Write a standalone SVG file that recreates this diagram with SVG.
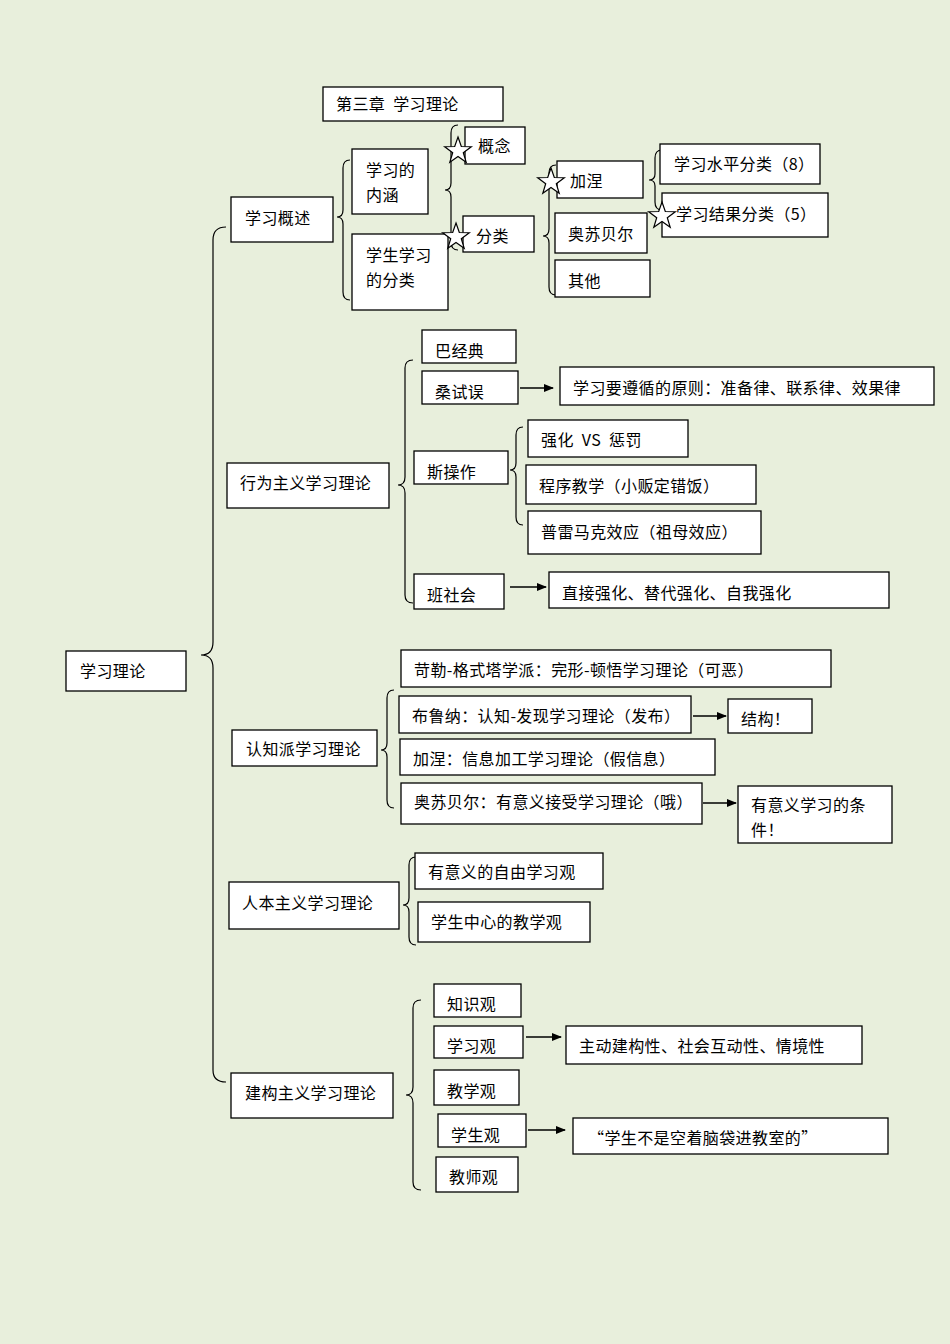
<svg xmlns="http://www.w3.org/2000/svg" xmlns:xlink="http://www.w3.org/1999/xlink" width="950" height="1344" viewBox="0 0 950 1344">
<style>
.b{fill:#fff;stroke:#000;stroke-width:1.3}
.t{font-family:"Noto Sans CJK SC","Liberation Sans",sans-serif;font-size:16px;fill:#000;white-space:pre;letter-spacing:0.4px}
.br{fill:none;stroke:#000;stroke-width:1.2}
.ar{stroke:#000;stroke-width:1.5;marker-end:url(#ah)}
</style>
<defs>
<marker id="ah" markerWidth="10" markerHeight="8" refX="9" refY="4" orient="auto" markerUnits="userSpaceOnUse"><path d="M0,0 L10,4 L0,8 z" fill="#000"/></marker>
<polygon id="star" points="0,-14 3.3,-4.5 13.3,-4.3 5.3,1.7 8.2,11.3 0,5.6 -8.2,11.3 -5.3,1.7 -13.3,-4.3 -3.3,-4.5" fill="#fff" stroke="#000" stroke-width="1.2"/>
</defs>
<rect width="950" height="1344" fill="#e8efdc"/>
<g id="connectors">
<path class="br" d="M226 227 Q213 227 213 240 L213 642 Q213 655 201 655 Q213 655 213 668 L213 1070 Q213 1082 226 1082"/>
<path class="br" d="M350 160 Q343 160 343 168 L343 210 Q343 217 337 217 Q343 217 343 224 L343 292 Q343 300 350 300"/>
<path class="br" d="M458 125 Q451 125 451 133 L451 183 Q451 190 445 190 Q451 190 451 197 L451 242 Q451 250 458 250"/>
<path class="br" d="M556 165 Q549 165 549 173 L549 229 Q549 236 543 236 Q549 236 549 243 L549 287 Q549 295 556 295"/>
<path class="br" d="M662 150 Q655 150 655 158 L655 174 Q655 180 649 180 Q655 180 655 186 L655 202 Q655 210 662 210"/>
<path class="br" d="M413 360 Q405 360 405 368 L405 477 Q405 485 398 485 Q405 485 405 493 L405 595 Q405 603 413 603"/>
<path class="br" d="M523 427 Q516 427 516 435 L516 463 Q516 470 510 470 Q516 470 516 477 L516 517 Q516 525 523 525"/>
<path class="br" d="M394 690 Q387 690 387 698 L387 743 Q387 750 381 750 Q387 750 387 757 L387 800 Q387 808 394 808"/>
<path class="br" d="M416 857 Q409 857 409 865 L409 898 Q409 905 403 905 Q409 905 409 912 L409 937 Q409 945 416 945"/>
<path class="br" d="M421 1000 Q413 1000 413 1008 L413 1087 Q413 1095 406 1095 Q413 1095 413 1103 L413 1182 Q413 1190 421 1190"/>
<line class="ar" x1="520" y1="388" x2="553" y2="388"/>
<line class="ar" x1="510" y1="587" x2="546" y2="587"/>
<line class="ar" x1="693" y1="716" x2="726" y2="716"/>
<line class="ar" x1="703" y1="803" x2="736" y2="803"/>
<line class="ar" x1="526" y1="1037" x2="561" y2="1037"/>
<line class="ar" x1="528" y1="1130" x2="565" y2="1130"/>
</g>
<g id="title"><rect class="b" x="323" y="87" width="180" height="34"/><text class="t" x="336" y="110">第三章  学习理论</text></g>
<g id="root"><rect class="b" x="66" y="651" width="120" height="40"/><text class="t" x="80" y="677">学习理论</text></g>
<g id="n1"><rect class="b" x="231" y="197" width="102" height="45"/><text class="t" x="245" y="224">学习概述</text></g>
<g id="n1a"><rect class="b" x="352" y="149" width="76" height="65"/><text class="t" x="366" y="176">学习的</text><text class="t" x="366" y="201">内涵</text></g>
<g id="n1b"><rect class="b" x="352" y="234" width="96" height="76"/><text class="t" x="366" y="261">学生学习</text><text class="t" x="366" y="286">的分类</text></g>
<g id="n1c"><rect class="b" x="465" y="127" width="60" height="37"/><text class="t" x="478" y="152">概念</text></g>
<g id="n1d"><rect class="b" x="463" y="216" width="71" height="36"/><text class="t" x="476" y="242">分类</text></g>
<g id="n1e"><rect class="b" x="557" y="161" width="86" height="37"/><text class="t" x="570" y="187">加涅</text></g>
<g id="n1f"><rect class="b" x="555" y="213" width="92" height="40"/><text class="t" x="568" y="240">奥苏贝尔</text></g>
<g id="n1g"><rect class="b" x="555" y="260" width="95" height="37"/><text class="t" x="568" y="287">其他</text></g>
<g id="n1h"><rect class="b" x="660" y="144" width="160" height="40"/><text class="t" x="674" y="170">学习水平分类（8）</text></g>
<g id="n1i"><rect class="b" x="662" y="193" width="166" height="44"/><text class="t" x="676" y="220">学习结果分类（5）</text></g>
<g id="stars">
<use xlink:href="#star" x="458" y="151"/>
<use xlink:href="#star" x="456" y="237"/>
<use xlink:href="#star" x="551" y="182"/>
<use xlink:href="#star" x="662" y="216"/>
</g>
<g id="n2"><rect class="b" x="227" y="463" width="162" height="45"/><text class="t" x="240" y="489">行为主义学习理论</text></g>
<g id="n2a"><rect class="b" x="422" y="330" width="94" height="33"/><text class="t" x="435" y="357">巴经典</text></g>
<g id="n2b"><rect class="b" x="422" y="371" width="96" height="33"/><text class="t" x="435" y="398">桑试误</text></g>
<g id="n2c"><rect class="b" x="560" y="367" width="374" height="38"/><text class="t" x="573" y="394">学习要遵循的原则：准备律、联系律、效果律</text></g>
<g id="n2d"><rect class="b" x="414" y="451" width="94" height="33"/><text class="t" x="427" y="478">斯操作</text></g>
<g id="n2e"><rect class="b" x="528" y="420" width="160" height="37"/><text class="t" x="541" y="446">强化  VS  惩罚</text></g>
<g id="n2f"><rect class="b" x="526" y="465" width="230" height="39"/><text class="t" x="539" y="492">程序教学（小贩定错饭）</text></g>
<g id="n2g"><rect class="b" x="528" y="511" width="233" height="43"/><text class="t" x="541" y="538">普雷马克效应（祖母效应）</text></g>
<g id="n2h"><rect class="b" x="414" y="574" width="90" height="35"/><text class="t" x="427" y="601">班社会</text></g>
<g id="n2i"><rect class="b" x="549" y="572" width="340" height="36"/><text class="t" x="562" y="599">直接强化、替代强化、自我强化</text></g>
<g id="n3"><rect class="b" x="232" y="730" width="145" height="36"/><text class="t" x="246" y="755">认知派学习理论</text></g>
<g id="n3a"><rect class="b" x="401" y="650" width="430" height="37"/><text class="t" x="414" y="676">苛勒-格式塔学派：完形-顿悟学习理论（可恶）</text></g>
<g id="n3b"><rect class="b" x="399" y="696" width="292" height="37"/><text class="t" x="412" y="722">布鲁纳：认知-发现学习理论（发布）</text></g>
<g id="n3c"><rect class="b" x="728" y="699" width="84" height="34"/><text class="t" x="741" y="725">结构！</text></g>
<g id="n3d"><rect class="b" x="400" y="739" width="315" height="36"/><text class="t" x="413" y="765">加涅：信息加工学习理论（假信息）</text></g>
<g id="n3e"><rect class="b" x="401" y="783" width="301" height="41"/><text class="t" x="414" y="808">奥苏贝尔：有意义接受学习理论（哦）</text></g>
<g id="n3f"><rect class="b" x="738" y="786" width="154" height="57"/><text class="t" x="751" y="811">有意义学习的条</text><text class="t" x="751" y="836">件！</text></g>
<g id="n4"><rect class="b" x="229" y="882" width="170" height="47"/><text class="t" x="242" y="909">人本主义学习理论</text></g>
<g id="n4a"><rect class="b" x="415" y="853" width="188" height="36"/><text class="t" x="428" y="878">有意义的自由学习观</text></g>
<g id="n4b"><rect class="b" x="418" y="902" width="172" height="40"/><text class="t" x="431" y="928">学生中心的教学观</text></g>
<g id="n5"><rect class="b" x="231" y="1073" width="162" height="45"/><text class="t" x="245" y="1099">建构主义学习理论</text></g>
<g id="n5a"><rect class="b" x="434" y="984" width="87" height="33"/><text class="t" x="447" y="1010">知识观</text></g>
<g id="n5b"><rect class="b" x="434" y="1026" width="89" height="32"/><text class="t" x="447" y="1052">学习观</text></g>
<g id="n5c"><rect class="b" x="566" y="1026" width="296" height="38"/><text class="t" x="579" y="1052">主动建构性、社会互动性、情境性</text></g>
<g id="n5d"><rect class="b" x="434" y="1070" width="85" height="35"/><text class="t" x="447" y="1097">教学观</text></g>
<g id="n5e"><rect class="b" x="438" y="1114" width="88" height="33"/><text class="t" x="451" y="1141">学生观</text></g>
<g id="n5f"><rect class="b" x="573" y="1118" width="315" height="36"/><text class="t" x="588" y="1144">“学生不是空着脑袋进教室的”</text></g>
<g id="n5g"><rect class="b" x="436" y="1157" width="82" height="35"/><text class="t" x="449" y="1183">教师观</text></g>
</svg>
